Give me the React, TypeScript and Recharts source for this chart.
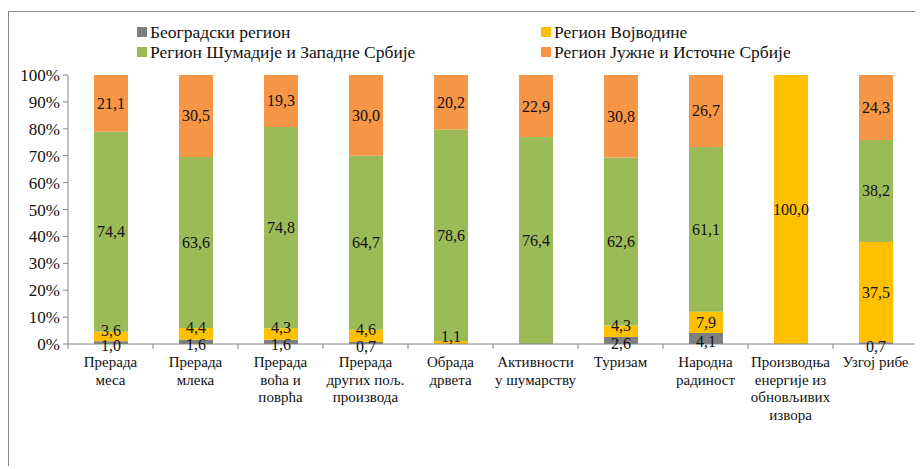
import { BarChart, Bar, XAxis, YAxis, LabelList } from "recharts";

const categories = [
  "Прерада\nмеса",
  "Прерада\nмлека",
  "Прерада\nвоћа и\nповрћа",
  "Прерада\nдругих пољ.\nпроизвода",
  "Обрада\nдрвета",
  "Активности\nу шумарству",
  "Туризам",
  "Народна\nрадиност",
  "Производња\nенергије из\nобновљивих\nизвора",
  "Узгој рибе",
];

const beograd = [1.0, 1.6, 1.6, 0.7, 0, 0, 2.6, 4.1, 0, 0.7];
const vojvodina = [3.6, 4.4, 4.3, 4.6, 1.1, 0, 4.3, 7.9, 100.0, 37.5];
const sumadija = [74.4, 63.6, 74.8, 64.7, 78.6, 76.4, 62.6, 61.1, 0, 38.2];
const jug = [21.1, 30.5, 19.3, 30.0, 20.2, 22.9, 30.8, 26.7, 0, 24.3];

const yTicks = [0, 0.1, 0.2, 0.3, 0.4, 0.5, 0.6, 0.7, 0.8, 0.9, 1];

const series = [
  { key: "beograd", name: "Београдски регион", color: "#7f7f7f", nudge: 3 },
  { key: "vojvodina", name: "Регион Војводине", color: "#ffc000", nudge: -6 },
  { key: "sumadija", name: "Регион Шумадије и Западне Србије", color: "#9bbb59", nudge: 0 },
  { key: "jug", name: "Регион Јужне и Источне Србије", color: "#f79646", nudge: 0 },
];

const data = categories.map((name, i) => ({
  name,
  beograd: beograd[i],
  vojvodina: vojvodina[i],
  sumadija: sumadija[i],
  jug: jug[i],
}));

const FONT = "'Times New Roman', 'Liberation Serif', 'DejaVu Serif', serif";
const AXIS = "#868686";

function CategoryTick(props: any) {
  const { x, y, payload, index, visibleTicksCount, width } = props;
  const half = payload?.offset || width / visibleTicksCount / 2;
  const lines = String(payload.value).split("\n");
  return (
    <g>
      <line x1={x - half} x2={x - half} y1={y} y2={y + 5} stroke={AXIS} />
      {index === visibleTicksCount - 1 && (
        <line x1={x + half} x2={x + half} y1={y} y2={y + 5} stroke={AXIS} />
      )}
      <text x={x} y={y + 23} textAnchor="middle" style={{ fontFamily: FONT, fontSize: 15 }} fill="#111">
        {lines.map((l, k) => (
          <tspan key={k} x={x} dy={k === 0 ? 0 : 17.6}>
            {l}
          </tspan>
        ))}
      </text>
    </g>
  );
}

const fmt = (v: any) => (v ? Number(v).toFixed(1).replace(".", ",") : "");

// small segments: Excel pushes the labels a little apart
const makeLabel = (nudge: number) => (props: any) => {
  const { x, y, width, height, value } = props;
  if (!value) return null;
  const small = Math.abs(height) < 16;
  return (
    <text
      x={x + width / 2}
      y={y + height / 2 + (small ? nudge : 0)}
      textAnchor="middle"
      dominantBaseline="central"
      style={{ fontFamily: FONT, fontSize: 16 }}
      fill="#111"
    >
      {fmt(value)}
    </text>
  );
};

export default function App() {
  return (
    <div
      style={{
        position: "relative",
        top: 3,
        width: 915,
        height: 458,
        borderTop: `1px solid ${AXIS}`,
        borderLeft: `1px solid ${AXIS}`,
        boxSizing: "border-box",
        fontFamily: FONT,
      }}
    >
      <div style={{ position: "absolute", left: 128, top: 11, display: "grid", gridTemplateColumns: "404px auto", rowGap: 2 }}>
        {series.map((s) => (
          <div key={s.key} style={{ display: "flex", alignItems: "center", fontSize: 17.5, color: "#111", lineHeight: "18px" }}>
            <span style={{ width: 10, height: 10, background: s.color, marginRight: 3, display: "inline-block" }} />
            {s.name}
          </div>
        ))}
      </div>
      <BarChart
        width={912}
        height={446}
        data={data}
        stackOffset="expand"
        barSize={34}
        margin={{ top: 63, right: 3, bottom: 10, left: 0 }}
      >
        <XAxis
          dataKey="name"
          interval={0}
          height={104}
          stroke={AXIS}
          tickLine={false}
          tickSize={0}
          tickMargin={0}
          tick={<CategoryTick />}
        />
        <YAxis
          width={59}
          domain={[0, 1]}
          ticks={yTicks}
          stroke={AXIS}
          tickSize={5}
          tickMargin={3}
          tickFormatter={(v: number) => `${Math.round(v * 100)}%`}
          tick={{ fontFamily: FONT, fontSize: 17, fill: "#111" }}
        />
        {series.map((s) => (
          <Bar key={s.key} dataKey={s.key} name={s.name} stackId="a" fill={s.color} isAnimationActive={false}>
            <LabelList dataKey={s.key} content={makeLabel(s.nudge)} />
          </Bar>
        ))}
      </BarChart>
    </div>
  );
}
